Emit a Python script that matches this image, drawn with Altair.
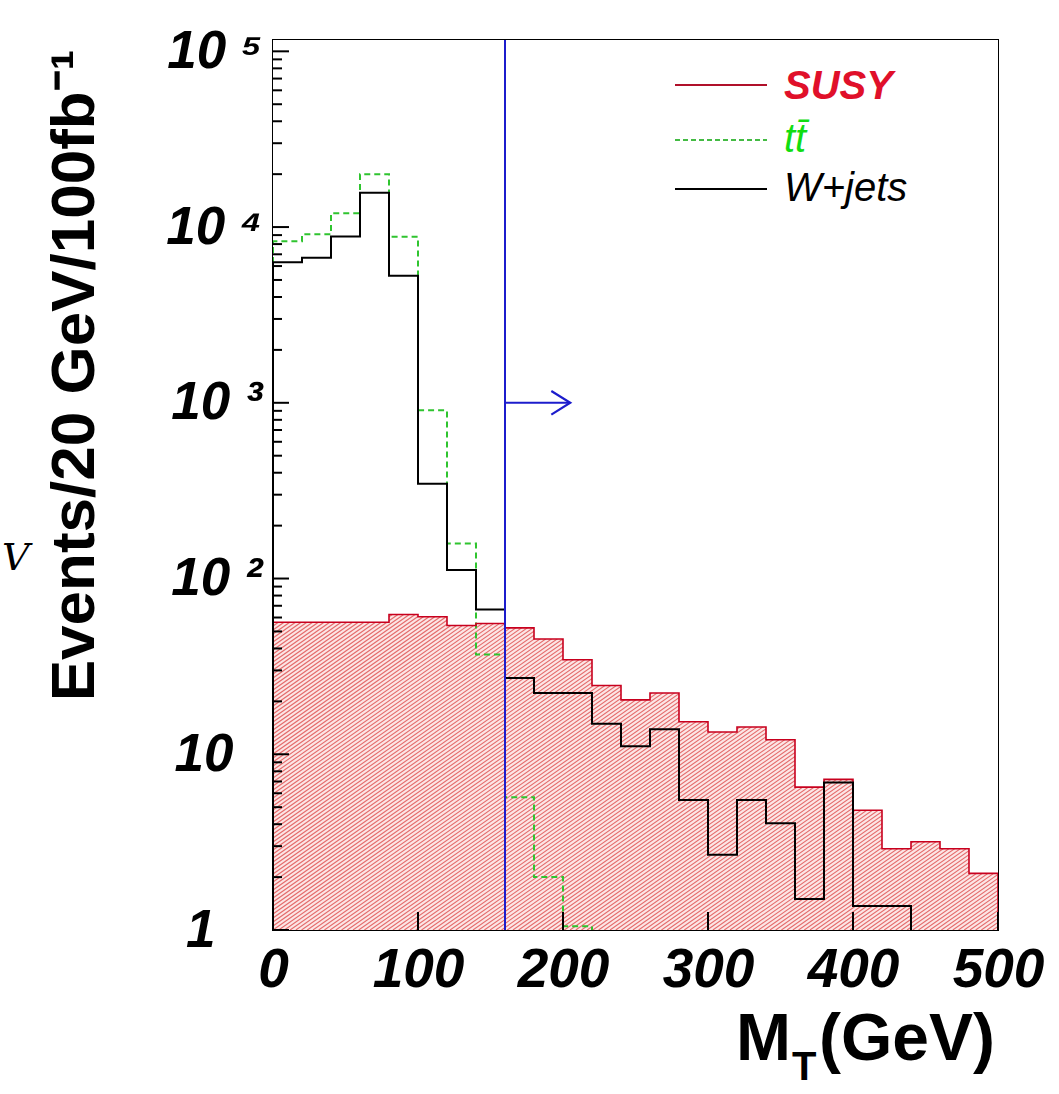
import math
import altair as alt
import pandas as pd

# ---------------- data ----------------
bin_edges = [0, 20, 40, 60, 80, 100, 120, 140, 160, 180, 200, 220, 240,
             260, 280, 300, 320, 340, 360, 380, 400, 420, 440, 460, 480, 500]

susy = [56.4, 56.4, 56.4, 56.4, 62.4, 60.6, 54.0, 55.5, 52.4, 45.3, 34.5, 24.6, 20.4,
        22.3, 15.3, 13.4, 14.3, 12.1, 6.5, 7.2, 4.8, 2.9, 3.18, 2.9, 2.1]
wjets = [6300, 6700, 8840, 15700, 5280, 346, 112, 66.6, 27.2, 22.3, 22.3, 14.9, 11.1,
         13.9, 5.5, 2.68, 5.5, 4.05, 1.50, 6.9, 1.37, 1.37, 0, 0, 0]
ttbar = [8300, 9100, 12000, 20000, 8800, 906, 158, 37, 5.7, 2.0, 1.05, 0, 0,
         0, 0, 0, 0, 0, 0, 0, 0, 0, 0, 0, 0]

cut_value = [160]
arrow_x = [160, 205]
arrow_level = [1000]

x_ticks = [0, 100, 200, 300, 400, 500]
y_major = [1, 10, 100, 1000, 10000, 100000]
y_minor = [m * 10 ** k for k in range(5) for m in range(2, 10)]

legend_labels = ["SUSY", "t\u0074\u0304", "W+jets"]

# ---------------- layout / style ----------------
W, H = 725, 890
PAD_L, PAD_T = 273, 40
X_MAX, Y_MIN, Y_MAX = 500, 1, 116000

x_scale = alt.Scale(domain=[0, X_MAX], nice=False, zero=False)
y_scale = alt.Scale(type="log", domain=[Y_MIN, Y_MAX], nice=False)

label_expr = ("datum.value == 1 ? '1' : datum.value == 10 ? '10' : "
              "'10 ' + (datum.value == 100 ? '\u00b2' : datum.value == 1000 ? '\u00b3' : "
              "datum.value == 10000 ? '\u2074' : '\u2075')")

X_AXIS = alt.Axis(values=x_ticks, ticks=False, domain=False, grid=False, title=None,
                  labelFontSize=55, labelFont="Liberation Sans", labelFontWeight="bold",
                  labelFontStyle="italic", labelPadding=13, labelColor="black",
                  labelFlush=False, zindex=1)
Y_AXIS = alt.Axis(values=y_major, labelExpr=label_expr, ticks=False, domain=False,
                  grid=False, title="Events/20 GeV/100fb\u207b\u00b9",
                  titleFont="Liberation Sans", titleFontWeight="bold",
                  titleFontSize=62, titleAngle=270, titleX=-180, titleY=335,
                  titleAlign="center", titleBaseline="alphabetic", titleColor="black",
                  labelFontSize=53, labelFont="Liberation Sans", labelFontWeight="bold",
                  labelFontStyle="italic", labelColor="black",
                  labelPadding={"condition": [{"test": "datum.value == 1", "value": 58},
                                              {"test": "datum.value == 10", "value": 40}],
                                "value": 11},
                  labelBaseline="middle", labelFlush=False, zindex=1)


def xq(field):
    return alt.X(field, type="quantitative", scale=x_scale, axis=X_AXIS)


def yq(field):
    return alt.Y(field, type="quantitative", scale=y_scale, axis=Y_AXIS)


def step_rows(name, vals):
    rows = [{"series": name, "x": bin_edges[0], "v": 0, "o": 0}]
    for i, v in enumerate(vals):
        rows.append({"series": name, "x": bin_edges[i], "v": v, "o": i + 1})
    rows.append({"series": name, "x": bin_edges[-1], "v": vals[-1], "o": len(vals) + 1})
    rows.append({"series": name, "x": bin_edges[-1], "v": 0, "o": len(vals) + 2})
    return rows


hist_df = pd.DataFrame(step_rows("SUSY", susy) + step_rows("ttbar", ttbar) +
                       step_rows("wjets", wjets))
area_df = pd.DataFrame({"x": bin_edges, "v": susy + [susy[-1]]})

base_hist = alt.Chart(hist_df).transform_calculate(yp="max(datum.v, 0.5)")


def hist_line(name, color, width, dash=None):
    kw = dict(interpolate="step-after", color=color, strokeWidth=width, clip=True)
    if dash:
        kw["strokeDash"] = dash
    return base_hist.transform_filter(alt.datum.series == name).mark_line(**kw).encode(
        x=xq("x"), y=yq("yp"), order="o:Q")


# ---- hatch decoration: diagonal strokes (~35 deg), masked above the SUSY histogram ----
HATCH_ANGLE = 35.0
HATCH_VPERIOD = 4.0       # vertical distance between strokes, px
HATCH_BAND = 340.0        # px above the bottom that the strokes need to reach
tan_a = math.tan(math.radians(HATCH_ANGLE))
px_per_x = W / X_MAX
px_per_decade = H / math.log10(Y_MAX / Y_MIN)


def px_to_data(px, py):
    return px / px_per_x, Y_MIN * 10 ** ((H - py) / px_per_decade)


hatch_rows = []
step_h = HATCH_VPERIOD / tan_a
run = HATCH_BAND / tan_a
px0 = -run
while px0 < W:
    xa, ya = px_to_data(px0, H)
    xb, yb = px_to_data(px0 + run, H - HATCH_BAND)
    hatch_rows.append({"xa": xa, "ya": ya, "xb": xb, "yb": yb})
    px0 += step_h
hatch_df = pd.DataFrame(hatch_rows)

susy_tint = alt.Chart(area_df).mark_area(interpolate="step-after", color="#fce6e6",
                                         clip=True).encode(
    x=xq("x"), y=yq("v"), y2=alt.datum(Y_MIN))
hatch_lines = alt.Chart(hatch_df).mark_rule(color="#e46a6a", strokeWidth=1.1, clip=True).encode(
    x=xq("xa"), y=yq("ya"), x2="xb:Q", y2="yb:Q")
hatch_mask = alt.Chart(area_df).mark_area(interpolate="step-after", color="white",
                                          clip=True).encode(
    x=xq("x"), y=yq("v"), y2=alt.datum(Y_MAX))

ttbar_line = hist_line("ttbar", "#2fc42f", 2, [6, 4])
susy_line = hist_line("SUSY", "#c8001e", 1.6)
wjets_line = hist_line("wjets", "black", 2)

cut_rule = alt.Chart(pd.DataFrame({"c": cut_value})).mark_rule(color="#1c1ccc", strokeWidth=2).encode(
    x=xq("c"))

arrow_df = pd.DataFrame({"x1": [arrow_x[0]], "x2": [arrow_x[1]], "y": arrow_level})
arrow_shaft = alt.Chart(arrow_df).mark_rule(color="#1c1ccc", strokeWidth=2).encode(
    x=xq("x1"), x2="x2:Q", y=yq("y"))
arrow_head = alt.Chart(arrow_df).mark_point(shape="M -1.6 -1 L 0 0 L -1.6 1", filled=False,
                                            color="#1c1ccc", strokeWidth=2.2, size=560,
                                            opacity=1).encode(
    x=xq("x2"), y=yq("y"))

# inward ticks
ymaj_ticks = alt.Chart(pd.DataFrame({"t": y_major})).mark_rule(color="black", strokeWidth=2).encode(
    y=yq("t"), x=alt.value(0), x2=alt.value(16))
ymin_ticks = alt.Chart(pd.DataFrame({"t": y_minor})).mark_rule(color="black", strokeWidth=2).encode(
    y=yq("t"), x=alt.value(0), x2=alt.value(9))
x_tick_rules = alt.Chart(pd.DataFrame({"t": x_ticks})).mark_rule(color="black", strokeWidth=2).encode(
    x=xq("t"), y=alt.value(H), y2=alt.value(H - 18))


# legend
def legend_line(color, y, dash=None):
    kw = dict(color=color, strokeWidth=2)
    if dash:
        kw["strokeDash"] = dash
    return alt.Chart(pd.DataFrame({"a": [0]})).mark_rule(**kw).encode(
        x=alt.value(402), x2=alt.value(494), y=alt.value(y))


def legend_text(label, color, y, weight):
    return alt.Chart(pd.DataFrame({"t": [label]})).mark_text(
        align="left", baseline="middle", font="Liberation Sans", fontSize=40,
        fontStyle="italic", fontWeight=weight, color=color).encode(
        x=alt.value(511), y=alt.value(y), text="t:N")


legend = [
    legend_line("#b0102a", 45), legend_text(legend_labels[0], "#e0102a", 47, "bold"),
    legend_line("#44bb44", 100, [5, 3]), legend_text(legend_labels[1], "#11dd11", 100, "normal"),
    legend_line("black", 149), legend_text(legend_labels[2], "black", 149, "normal"),
]


def free_text(label, x, y, size, align="left", font="Liberation Sans", style="normal",
              weight="bold", baseline="alphabetic"):
    return alt.Chart(pd.DataFrame({"t": [label]})).mark_text(
        align=align, baseline=baseline, font=font, fontSize=size, fontStyle=style,
        fontWeight=weight, color="black").encode(x=alt.value(x), y=alt.value(y), text="t:N")


xtitle = [
    free_text("M", 518, 1020, 66, align="right"),
    free_text("T", 519, 1040, 40),
    free_text("(GeV)", 546, 1020, 66),
    free_text("V", -271, 530, 38, align="left", font="DejaVu Serif", style="italic",
              weight="normal"),
]

chart = alt.layer(
    susy_tint, hatch_lines, hatch_mask, ttbar_line, susy_line, wjets_line, cut_rule,
    arrow_shaft, arrow_head, ymaj_ticks, ymin_ticks, x_tick_rules, *legend, *xtitle
).properties(
    width=W, height=H,
    background="white",
    autosize=alt.AutoSizeParams(type="none"),
    padding={"left": PAD_L, "top": PAD_T, "right": 1059 - PAD_L - W, "bottom": 1094 - PAD_T - H},
).configure_view(stroke="black", strokeWidth=2)

chart.save("out.html", embed_options={"renderer": "svg", "actions": False})
